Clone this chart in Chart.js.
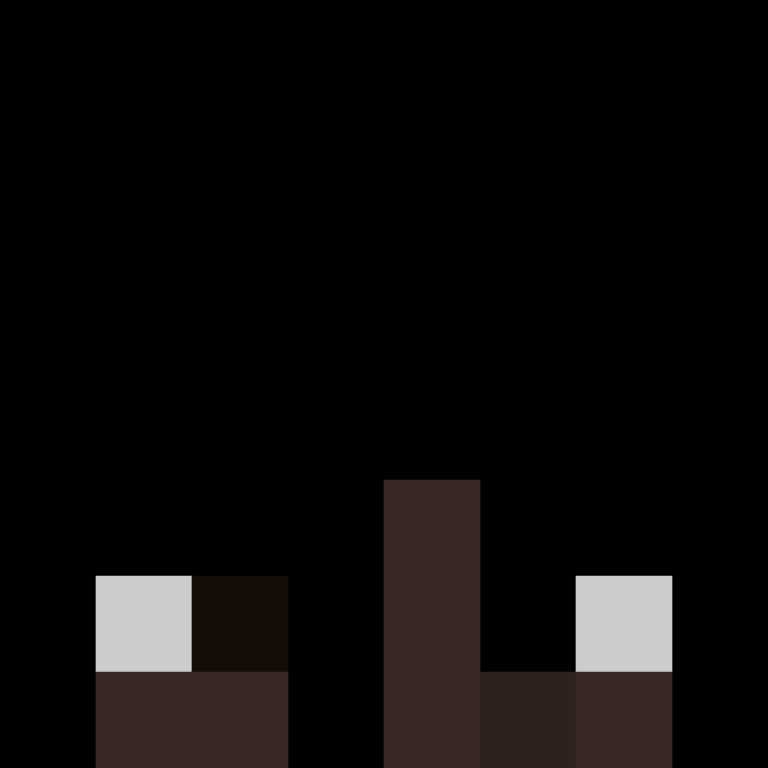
<!DOCTYPE html>
<html>
<head>
<meta charset="utf-8">
<script src="https://cdn.jsdelivr.net/npm/chart.js@4"></script>
<style>
html,body{margin:0;padding:0;background:#000;}
#wrap{width:768px;height:768px;}
canvas{display:block;}
</style>
</head>
<body>
<div id="wrap"><canvas id="c" width="768" height="768"></canvas></div>
<script>
// Columns of the grid
const columns = ['1','2','3','4','5','6','7','8'];
// Cell codes per row (bottom row first); 0 = empty
const row1 = [0, 1, 1, 0, 1, 2, 1, 0];
const row2 = [0, 3, 4, 0, 1, 0, 3, 0];
const row3 = [0, 0, 0, 0, 1, 0, 0, 0];
const rowCount = 8;
// Palette for the codes
const palette = {1: '#372826', 2: '#2f211e', 3: '#cccccc', 4: '#150c08'};

const rows = [row1, row2, row3];
const datasets = rows.map((r, i) => ({
  label: 'row' + (i + 1),
  data: r.map(v => v ? 1 : null),
  backgroundColor: r.map(v => v ? palette[v] : 'rgba(0,0,0,0)'),
  borderWidth: 0,
  categoryPercentage: 1,
  barPercentage: 1
}));

new Chart(document.getElementById('c'), {
  type: 'bar',
  data: { labels: columns, datasets },
  options: {
    responsive: false,
    devicePixelRatio: 1,
    animation: false,
    layout: { padding: 0 },
    plugins: { legend: { display: false }, tooltip: { enabled: false } },
    scales: {
      x: { stacked: true, display: false, offset: true },
      y: { stacked: true, display: false, min: 0, max: rowCount }
    }
  }
});
</script>
</body>
</html>
